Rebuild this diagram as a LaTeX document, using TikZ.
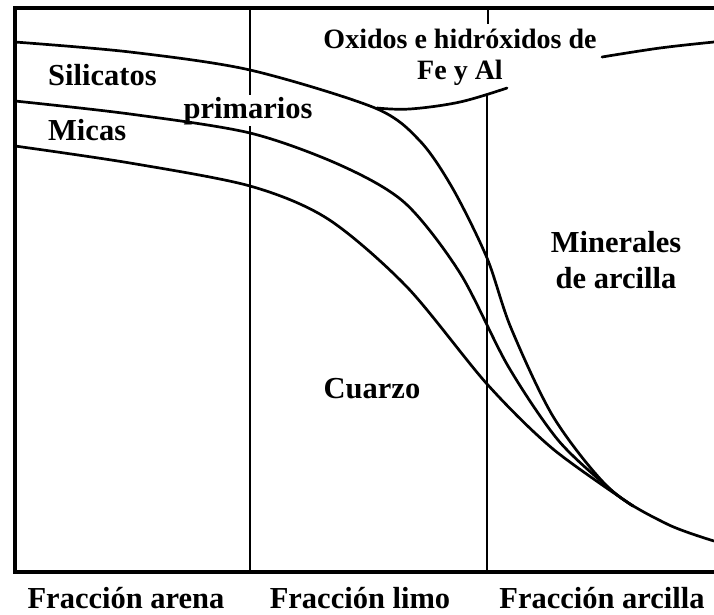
\documentclass[tikz,border=0pt]{standalone}
\usepackage{fontspec}
\setmainfont{Liberation Serif}
\begin{document}
\begin{tikzpicture}[x=1pt,y=-1pt,
  frameline/.style={line width=3.4pt, line join=miter},
  divline/.style={line width=2.4pt},
  curveline/.style={line width=2.7pt, line cap=round, line join=round},
  lbl/.style={font=\fontsize{30.5}{32}\selectfont\bfseries, inner sep=0pt},
  slbl/.style={font=\fontsize{28}{30}\selectfont\bfseries, inner sep=0pt}]
\useasboundingbox (0,0) rectangle (714,614);
% frame
\draw[frameline] (714,8) -- (15,8) -- (15,572) -- (714,572);
% dividers
\draw[divline] (250,8) -- (250,572);
\draw[divline] (488,8) -- (488,24);
\draw[divline] (487,95) -- (487,572);
% label that masks the divider
\node[lbl, anchor=base west, fill=white, inner sep=1.5pt] (pri) at (182,118) {primarios};
% curves
\draw[curveline] plot[smooth, tension=0.5] coordinates {(15,42) (130,52) (250,70) (375,108) (420,141) (453,189) (487,258) (511,328) (554,418) (610,489) (667,524) (714,541)};
\draw[curveline] plot[smooth, tension=0.5] coordinates {(15,101) (130,114) (250,133) (340,165) (405,203) (460,273) (508,366) (558,440) (610,489) (633,506)};
\draw[curveline] plot[smooth, tension=0.5] coordinates {(15,146) (130,163) (250,186) (328,219) (407,287) (487,384) (553,449) (633,506)};
% oxidos curves
\draw[curveline] plot[smooth, tension=0.6] coordinates {(377,108) (410,109) (460,102) (507,88)};
\draw[curveline] plot[smooth, tension=0.6] coordinates {(602,57) (660,48) (714,42)};
% labels
\node[lbl, anchor=base west] (sil) at (48,85) {Silicatos};
\node[lbl, anchor=base west] (mic) at (48,140) {Micas};
\node[slbl, anchor=base] (ox1) at (460,48) {Oxidos e hidróxidos de};
\node[slbl, anchor=base] (ox2) at (460,79) {Fe y Al};
\node[lbl, anchor=base] (min1) at (616,252) {Minerales};
\node[lbl, anchor=base] (min2) at (616,288) {de arcilla};
\node[lbl, anchor=base] (cua) at (372,398) {Cuarzo};
\node[lbl, anchor=base] (fa) at (126,608) {Fracción arena};
\node[lbl, anchor=base] (fl) at (360,608) {Fracción limo};
\node[lbl, anchor=base] (fc) at (602,608) {Fracción arcilla};
\end{tikzpicture}
\end{document}
